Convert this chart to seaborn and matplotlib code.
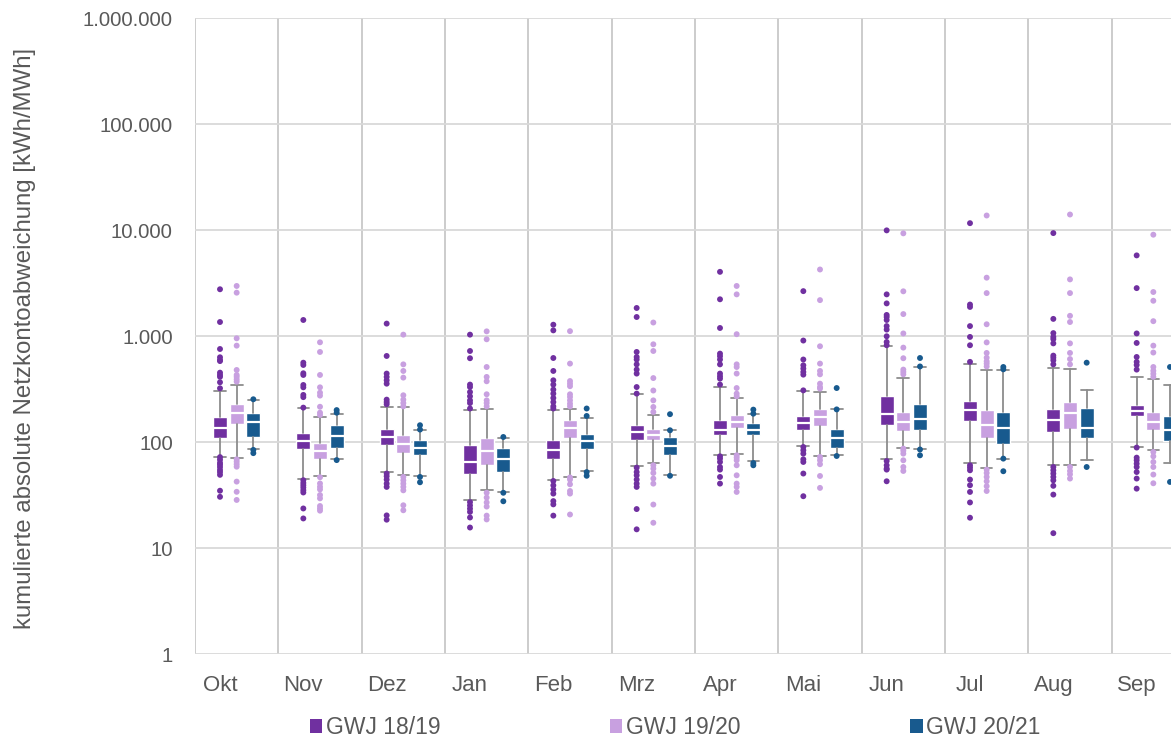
import numpy as np
import pandas as pd
import matplotlib
matplotlib.use("Agg")
import matplotlib.pyplot as plt
from matplotlib.patches import Patch
from matplotlib.ticker import FixedLocator, FuncFormatter, NullLocator
import seaborn as sns

months = ["Okt", "Nov", "Dez", "Jan", "Feb", "Mrz", "Apr", "Mai", "Jun", "Jul", "Aug", "Sep"]
series = ["GWJ 18/19", "GWJ 19/20", "GWJ 20/21"]
colors = ["#7030A0", "#C8A0E0", "#185A8E"]

# GWJ 18/19 box statistics per month (kWh/MWh)
whislo_1819 = [72.6, 44.8, 51.8, 28.2, 44.2, 59, 76, 91, 68.6, 63.4, 61.2, 89.7]
q1_1819 = [110, 85.3, 93, 49.6, 68.6, 104, 116, 131, 144, 157, 124, 175]
med_1819 = [136, 103, 111.5, 64.8, 83.5, 124, 131, 152, 183, 202, 160, 196]
q3_1819 = [171, 122, 134, 93, 104, 146, 163, 175, 272, 242, 207, 222]
whishi_1819 = [303, 208, 214, 199, 202, 282, 330, 301, 800, 540, 499, 411]
out_1819 = [
    [2760, 1355, 754, 630, 594, 580, 451, 429, 412, 366, 321, 72, 68, 63.5, 61, 58, 54.5, 52, 49, 34.7, 30.4],
    [1416, 560, 533, 445, 429, 345, 328, 278, 265, 211, 43.6, 41.1, 39.1, 37.2, 35.1, 33.4, 23.6, 19.0],
    [1309, 648, 442, 411, 382, 355, 251, 238, 227, 50.4, 47.5, 44.2, 40.5, 37.7, 20.3, 18.5],
    [1030, 722, 617, 348, 330, 296, 270, 247, 233, 207, 27.1, 25.2, 23.5, 21.9, 19.4, 15.6],
    [1278, 1130, 620, 468, 382, 348, 312, 286, 260, 238, 217, 207, 42.9, 39.0, 35.6, 32.6, 27.7, 25.8, 20.2],
    [1838, 1511, 707, 634, 600, 540, 482, 442, 330, 286, 57.3, 52.1, 48.5, 44.2, 40.5, 37.7, 23.3, 15.0],
    [4030, 2220, 1190, 682, 645, 600, 540, 442, 417, 396, 348, 73.3, 69.7, 64.8, 58.1, 54.9, 46.8, 40.5],
    [2650, 906, 600, 529, 493, 458, 432, 307, 89.7, 83.5, 77.7, 68.6, 64.8, 50.4, 30.8],
    [9920, 2470, 2030, 1580, 1510, 1416, 1240, 1150, 994, 878, 818, 66.2, 60.3, 56.1, 54.9, 42.6],
    [11600, 1980, 1880, 1240, 980, 818, 570, 60.3, 57.3, 54.1, 44.2, 39.1, 33.8, 26.9, 19.3],
    [9350, 1450, 1065, 980, 935, 852, 653, 624, 590, 540, 58.1, 54.1, 50.4, 46.8, 43.5, 38.6, 31.9, 13.8],
    [5760, 2830, 1057, 860, 634, 570, 533, 482, 88.6, 71.2, 67.2, 62.5, 58.1, 52.1, 45.2, 36.3],
]

# GWJ 19/20
whislo_1920 = [70.2, 47.8, 48.5, 35.5, 46.8, 63.9, 77.7, 73.3, 88.5, 56.9, 61.2, 84.7]
q1_1920 = [148, 68.6, 78.8, 60.3, 110, 104, 137, 141, 126, 110, 132, 129]
med_1920 = [189, 82.8, 96.6, 82.8, 137, 117, 154, 172, 153, 144, 189, 154]
q3_1920 = [228, 98.6, 116, 110, 163, 132, 178, 207, 192, 199, 238, 192]
whishi_1920 = [345, 173, 214, 207, 207, 178, 260, 296, 405, 475, 488, 396]
out_1920 = [
    [2965, 2563, 951, 811, 478, 429, 412, 390, 371, 68.6, 65.2, 61.7, 58.5, 42.3, 33.9, 28.4],
    [872, 707, 429, 328, 292, 274, 215, 189, 180, 46.5, 40.6, 37.8, 35.7, 31.6, 29.4, 24.9, 23.6, 22.5],
    [1030, 540, 468, 405, 276, 251, 233, 217, 46.8, 43.5, 40.5, 37.7, 35, 25.3, 22.7],
    [1106, 931, 510, 411, 374, 282, 247, 233, 217, 33.2, 29.9, 26.9, 24.6, 20.2, 18.6],
    [1111, 549, 376, 355, 336, 282, 266, 247, 230, 217, 46.3, 44.2, 39.9, 34.5, 32.6, 20.7],
    [1340, 835, 722, 401, 306, 247, 214, 192, 60.3, 56.1, 51.0, 45.2, 40.5, 25.7, 17.3],
    [2965, 2470, 1040, 540, 510, 442, 323, 286, 270, 74.9, 71.2, 67.2, 60.3, 48.5, 40.5, 37.7, 33.8],
    [4240, 2180, 800, 549, 468, 435, 355, 330, 319, 72.2, 67.2, 61.7, 47.8, 36.9],
    [9300, 2640, 1610, 1057, 777, 617, 482, 458, 435, 86.6, 82.8, 77.7, 67.2, 58.1, 53.3],
    [13700, 3550, 2540, 1290, 870, 692, 624, 577, 549, 516, 54.9, 51, 46.8, 42.6, 38.3, 34.5],
    [14000, 3420, 2540, 1550, 1355, 852, 692, 606, 540, 58.1, 53.3, 49.6, 45.2],
    [9030, 2600, 2150, 1380, 811, 698, 510, 470, 440, 412, 80.5, 73.3, 64.8, 58.1, 49.3, 40.8],
]

# GWJ 20/21
whislo_2021 = [85.3, 68.6, 47.8, 33.4, 53.3, 48.5, 66.2, 74.9, 85, 69.7, 67.2, 63.9]
q1_2021 = [112, 87.2, 76, 52.1, 85.3, 75, 116, 87.8, 129, 95, 110, 102]
med_2021 = [155, 114, 87.8, 68.6, 102, 91, 131, 110, 166, 136, 137, 129]
q3_2021 = [186, 145, 104, 87.8, 120, 111.5, 151, 134, 230, 192, 211, 175]
whishi_2021 = [250, 182, 131, 110, 168, 129, 185, 203, 510, 475, 307, 348]
out_2021 = [
    [253, 84.2, 78.5],
    [200, 189, 67.5],
    [144, 131, 46.8, 41.7],
    [111.5, 33.2, 27.6],
    [207, 176, 52, 48],
    [183, 129, 48],
    [202, 185, 63.4, 60.3],
    [323, 203, 73.8],
    [620, 516, 85, 74.9],
    [510, 485, 69.7, 53],
    [560, 58.1],
    [510, 42],
]

y_ticks = [1, 10, 100, 1000, 10000, 100000, 1000000]

stats_by_series = [
    (whislo_1819, q1_1819, med_1819, q3_1819, whishi_1819, out_1819),
    (whislo_1920, q1_1920, med_1920, q3_1920, whishi_1920, out_1920),
    (whislo_2021, q1_2021, med_2021, q3_2021, whishi_2021, out_2021),
]
offsets = [-0.2, 0.0, 0.2]

sns.set_theme(style="white")
plt.rcParams["font.family"] = ["Liberation Sans", "DejaVu Sans"]
text_color = "#595959"

fig = plt.figure(figsize=(11.71, 7.44), dpi=100)
ax = fig.add_axes([195 / 1171, 1 - 654 / 744, 1000 / 1171, 636 / 744])
ax.set_yscale("log")
ax.set_ylim(1, 1e6)
ax.set_xlim(-0.5, len(months) - 0.5)

# boxes and whiskers from the summary statistics
for s, (lo, q1, med, q3, hi, _) in enumerate(stats_by_series):
    bstats = [
        {"whislo": lo[i], "q1": q1[i], "med": med[i], "q3": q3[i], "whishi": hi[i], "fliers": []}
        for i in range(len(months))
    ]
    pos = [i + offsets[s] for i in range(len(months))]
    ax.bxp(
        bstats, positions=pos, widths=0.165, capwidths=0.14, patch_artist=True,
        showfliers=False, manage_ticks=False,
        boxprops=dict(facecolor=colors[s], edgecolor="white", linewidth=1.0),
        medianprops=dict(color="white", linewidth=1.6),
        whiskerprops=dict(color="#8c8c8c", linewidth=1.3),
        capprops=dict(color="#8c8c8c", linewidth=1.3),
        zorder=3,
    )

# outlier points
rows = []
for s, stats in enumerate(stats_by_series):
    for i, vals in enumerate(stats[5]):
        for v in vals:
            rows.append({"x": i + offsets[s], "value": v, "series": series[s]})
fliers = pd.DataFrame(rows)
sns.scatterplot(
    data=fliers, x="x", y="value", hue="series", hue_order=series, palette=colors,
    s=18, edgecolor="none", linewidth=0, legend=False, ax=ax, zorder=4,
)

# axes styling
for sp in ax.spines.values():
    sp.set_visible(False)
ax.set_xlabel("")
ax.set_ylabel("")
ax.yaxis.set_major_locator(FixedLocator(y_ticks))
ax.yaxis.set_minor_locator(NullLocator())
ax.yaxis.set_major_formatter(FuncFormatter(lambda v, p: f"{int(round(v)):,}".replace(",", ".")))
ax.tick_params(axis="y", which="major", length=0, pad=16, labelsize=14.6, labelcolor=text_color)
ax.grid(axis="y", which="major", color="#d9d9d9", linewidth=1.3, zorder=0)

ax.xaxis.set_major_locator(FixedLocator([i - 0.2 for i in range(len(months))]))
ax.set_xticklabels(months)
ax.xaxis.set_minor_locator(FixedLocator([i - 0.5 for i in range(len(months) + 1)]))
ax.tick_params(axis="x", which="major", length=0, pad=15, labelsize=16, labelcolor=text_color)
ax.tick_params(axis="x", which="minor", length=5, width=1.3, color="#c8c8c8", direction="out")
ax.grid(axis="x", which="minor", color="#c8c8c8", linewidth=1.3, zorder=0)
ax.grid(axis="x", which="major", visible=False)
ax.set_axisbelow(True)

fig.text(25 / 1171, 1 - 338 / 744, "kumulierte absolute Netzkontoabweichung [kWh/MWh]",
         rotation=90, ha="center", va="center", fontsize=17.3, color=text_color)

handles = [Patch(facecolor=c, edgecolor="none") for c in colors]
fig.legend(handles, series, loc="center", bbox_to_anchor=(675 / 1171, 1 - 728 / 744), ncol=3,
           frameon=False, fontsize=16.5, labelcolor=text_color, handlelength=0.55, handleheight=0.55,
           handletextpad=0.15, columnspacing=7.4)

fig.savefig("out.png", dpi=100)
